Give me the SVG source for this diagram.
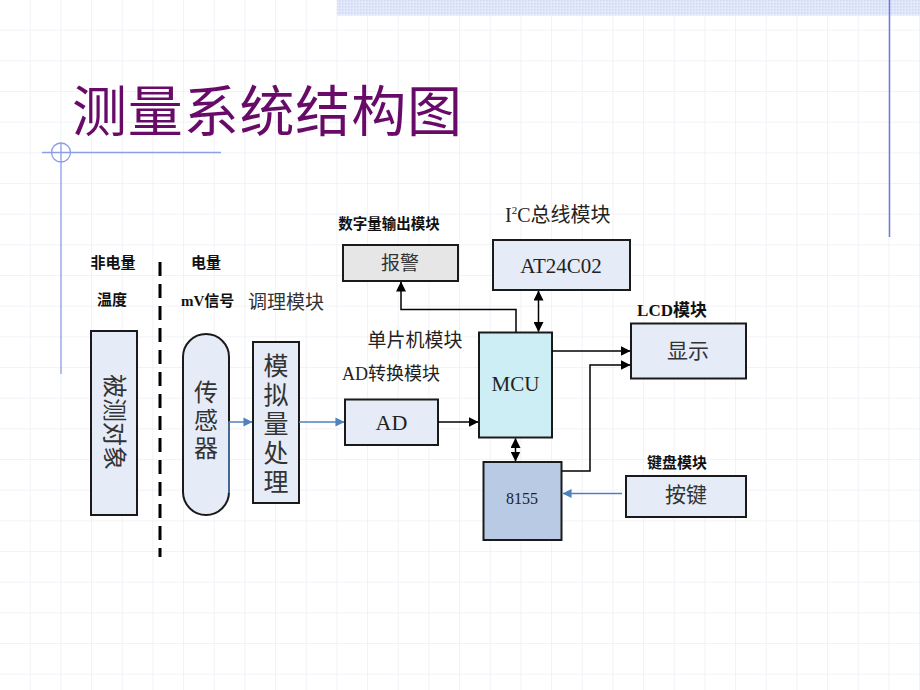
<svg xmlns="http://www.w3.org/2000/svg" width="920" height="690" viewBox="0 0 920 690">
<defs>
<pattern id="grid" x="0" y="0" width="30.667" height="30.667" patternUnits="userSpaceOnUse">
<path d="M30.667 0 V30.667 M0 30.667 H30.667" fill="none" stroke="#e5e7f1" stroke-width="1"/>
</pattern>
<pattern id="dots" x="0" y="0" width="3" height="3" patternUnits="userSpaceOnUse">
<rect width="3" height="3" fill="#e3e9fa"/>
<rect width="1.5" height="1.5" fill="#cdd8f5"/>
</pattern>
<marker id="ah" viewBox="0 0 10 10" refX="9.5" refY="5" markerWidth="10" markerHeight="10" markerUnits="userSpaceOnUse" orient="auto">
<path d="M0 0 L10 5 L0 10 Z" fill="#000"/>
</marker>
<marker id="ahs" viewBox="0 0 10 10" refX="9.5" refY="5" markerWidth="10" markerHeight="10" markerUnits="userSpaceOnUse" orient="auto-start-reverse">
<path d="M0 0 L10 5 L0 10 Z" fill="#000"/>
</marker>
<marker id="bh" viewBox="0 0 10 10" refX="9.5" refY="5" markerWidth="9" markerHeight="10" markerUnits="userSpaceOnUse" orient="auto">
<path d="M0 0 L10 5 L0 10 Z" fill="#4f81bd"/>
</marker>
</defs>
<style>
.lbl{font-family:"Liberation Serif","Noto Sans CJK SC",serif;font-weight:bold;fill:#111;}
.lbln{font-family:"Liberation Serif","Noto Sans CJK SC",serif;fill:#222;}
.box{stroke:#1a1a1a;stroke-width:2;}
.bt{font-family:"Noto Sans CJK SC",sans-serif;fill:#333;text-anchor:middle;}
.vt{font-family:"Noto Sans CJK SC",sans-serif;fill:#333;text-anchor:middle;writing-mode:vertical-rl;text-orientation:upright;letter-spacing:4px;}
.bs{font-family:"Liberation Serif","Noto Sans CJK SC",serif;fill:#222;text-anchor:middle;}
.k{fill:none;stroke:#000;stroke-width:1.5;}
.b{fill:none;stroke:#4f81bd;stroke-width:1.5;}
</style>
<rect width="920" height="690" fill="#fff"/>
<rect width="920" height="690" fill="url(#grid)"/>
<rect x="337" y="0" width="583" height="15.5" fill="url(#dots)"/>
<line x1="889.5" y1="0" x2="889.5" y2="237" stroke="#6c7ae0" stroke-width="1.5"/>
<line x1="42" y1="152.5" x2="221" y2="152.5" stroke="#8c9ee8" stroke-width="1.3"/>
<line x1="61" y1="143" x2="61" y2="374" stroke="#8c9ee8" stroke-width="1.3"/>
<circle cx="61" cy="152.5" r="9.5" fill="none" stroke="#8c9ee8" stroke-width="1.3"/>
<text x="72" y="131" font-family="Noto Sans CJK SC,sans-serif" font-size="55" fill="#680a68" textLength="390">测量系统结构图</text>

<g id="labels">
<text class="lbl" x="113" y="268" font-size="15" text-anchor="middle">非电量</text>
<text class="lbl" x="112" y="305" font-size="15" text-anchor="middle">温度</text>
<text class="lbl" x="206" y="268" font-size="15" text-anchor="middle">电量</text>
<text class="lbl" x="181" y="306" font-size="15">mV信号</text>
<text x="248" y="309" font-family="Noto Sans CJK SC,sans-serif" font-size="19" fill="#333">调理模块</text>
<text class="lbl" x="389" y="229" font-size="14.5" text-anchor="middle">数字量输出模块</text>
<text class="lbln" x="505" y="222" font-size="20">I<tspan font-size="11" dy="-8">2</tspan><tspan dy="8">C总线模块</tspan></text>
<text class="lbln" x="415" y="347" font-size="19" text-anchor="middle">单片机模块</text>
<text class="lbln" x="391" y="380" font-size="18" text-anchor="middle">AD转换模块</text>
<text class="lbl" x="672" y="316" font-size="17" text-anchor="middle">LCD模块</text>
<text class="lbl" x="677" y="468" font-size="15" text-anchor="middle">键盘模块</text>
</g>
<line x1="160" y1="262" x2="160" y2="557" stroke="#000" stroke-width="3" stroke-dasharray="14 8"/>

<g id="n-object">
<rect class="box" x="91" y="331" width="46" height="184" fill="#e5ecf7"/>
<text class="bt" font-size="24" transform="translate(114 422) rotate(90)" y="8">被测对象</text>
</g>
<g id="n-sensor">
<rect class="box" x="183" y="334" width="46" height="181" rx="23" ry="23" fill="#e5ecf7"/>
<text class="vt" x="206" y="422" font-size="24">传感器</text>
</g>
<g id="n-analog">
<rect class="box" x="253" y="342" width="46" height="161" fill="#e5ecf7"/>
<text class="vt" x="276" y="425" font-size="25">模拟量处理</text>
</g>
<g id="n-ad">
<rect class="box" x="345" y="399.5" width="93" height="45.5" fill="#e5ecf7"/>
<text class="bs" x="391.5" y="430" font-size="22">AD</text>
</g>
<g id="n-mcu">
<rect class="box" x="479" y="332.5" width="73" height="105" fill="#cdeef4"/>
<text class="bs" x="515.5" y="391" font-size="21">MCU</text>
</g>
<g id="n-8155">
<rect class="box" x="483.5" y="462" width="78" height="78" fill="#b9cae4"/>
<text class="bs" x="522" y="504" font-size="16">8155</text>
</g>
<g id="n-alarm">
<rect class="box" x="343" y="245" width="115" height="36" fill="#e6e6e6"/>
<text class="bt" x="400" y="270" font-size="19">报警</text>
</g>
<g id="n-eeprom">
<rect class="box" x="493" y="240" width="137" height="50" fill="#e5ecf7"/>
<text class="bs" x="561" y="273" font-size="21">AT24C02</text>
</g>
<g id="n-display">
<rect class="box" x="631" y="323.5" width="115" height="55" fill="#e5ecf7"/>
<text class="bt" x="688" y="358" font-size="21">显示</text>
</g>
<g id="n-keypad">
<rect class="box" x="626" y="476" width="120" height="41" fill="#e5ecf7"/>
<text class="bt" x="686" y="502" font-size="21">按键</text>
</g>

<g id="connectors">
<path class="b" d="M229 493 V422 H252" marker-end="url(#bh)"/>
<path class="b" d="M299 422 H344" marker-end="url(#bh)"/>
<path class="k" d="M438 422 H478" marker-end="url(#ah)"/>
<path class="k" d="M516 332 V309.5 H401 V282" marker-end="url(#ah)"/>
<path class="k" d="M538.5 291 V331.5" marker-start="url(#ahs)" marker-end="url(#ahs)"/>
<path class="k" d="M515.5 438.5 V461" marker-start="url(#ahs)" marker-end="url(#ahs)"/>
<path class="k" d="M552 351 H630" marker-end="url(#ah)"/>
<path class="k" d="M562 471 H590 V365 H630" marker-end="url(#ah)"/>
<path class="b" d="M622 493.5 H563" marker-end="url(#bh)"/>
</g>
</svg>
